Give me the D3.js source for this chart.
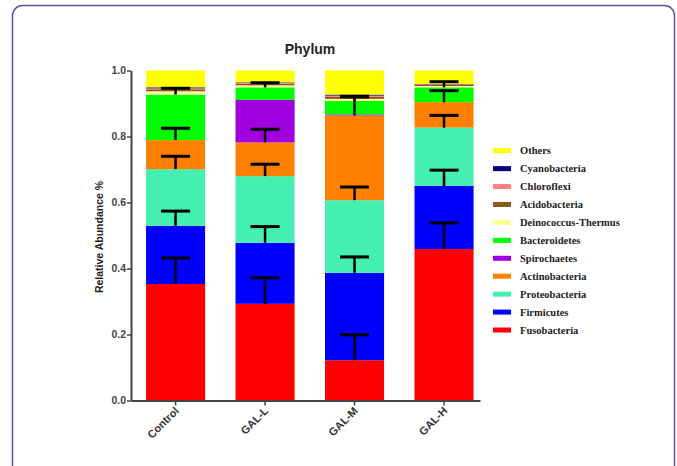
<!DOCTYPE html>
<html>
<head>
<meta charset="utf-8">
<script src="https://cdn.jsdelivr.net/npm/d3@7"></script>
<style>
  body { margin: 0; background: #fff; }
  svg { display: block; }
</style>
</head>
<body>
<div id="chart"></div>
<script>
var groups = ['Control', 'GAL-L', 'GAL-M', 'GAL-H']

// stacking order, bottom to top
var phyla = ['Fusobacteria', 'Firmicutes', 'Proteobacteria', 'Actinobacteria', 'Spirochaetes',
  'Bacteroidetes', 'Deinococcus-Thermus', 'Acidobacteria', 'Chloroflexi', 'Cyanobacteria', 'Others']

var colors = ['#ff0000', '#0000ff', '#44f0b0', '#ff8000', '#a000dd',
  '#00ff00', '#ffff99', '#8b5a1a', '#ff8080', '#000080', '#ffff00']

// mean relative abundance per group (Control, GAL-L, GAL-M, GAL-H)
var fusobacteria = [0.353, 0.293, 0.122, 0.459]
var firmicutes = [0.176, 0.185, 0.265, 0.191]
var proteobacteria = [0.172, 0.202, 0.220, 0.177]
var actinobacteria = [0.088, 0.102, 0.257, 0.077]
var spirochaetes = [0.000, 0.129, 0.003, 0.000]
var bacteroidetes = [0.138, 0.038, 0.041, 0.045]
var deinococcus = [0.010, 0.006, 0.006, 0.004]
var acidobacteria = [0.006, 0.005, 0.006, 0.003]
var chloroflexi = [0.003, 0.002, 0.004, 0.002]
var cyanobacteria = [0.003, 0.002, 0.003, 0.001]
var others = [0.051, 0.036, 0.073, 0.041]

// error (SD) per segment
var errFuso = [0.079, 0.079, 0.077, 0.079]
var errFirm = [0.045, 0.049, 0.048, 0.048]
var errProteo = [0.039, 0.036, 0.040, 0.037]
var errActino = [0.036, 0.040, 0.056, 0.035]
var errBacter = [0.019, 0.014, 0.014, 0.017]

var yTicks = [0, 0.2, 0.4, 0.6, 0.8, 1.0]

var series = [fusobacteria, firmicutes, proteobacteria, actinobacteria, spirochaetes,
  bacteroidetes, deinococcus, acidobacteria, chloroflexi, cyanobacteria, others]
var errors = [errFuso, errFirm, errProteo, errActino, null, errBacter, null, null, null, null, null]

var width = 677
var height = 466

var svg = d3.select('#chart')
  .append('svg')
  .attr('width', width)
  .attr('height', height)

// rounded frame around the figure
svg.append('rect')
  .attr('x', 12.5)
  .attr('y', 5.5)
  .attr('width', 662)
  .attr('height', 520)
  .attr('rx', 10)
  .attr('fill', 'none')
  .attr('stroke', '#5b4fa3')
  .attr('stroke-width', 1.5)

var x = d3.scaleBand()
  .domain(groups)
  .range([131, 480])
  .paddingInner(0.34)
  .paddingOuter(0.12)
  .align(0.7)

var y = d3.scaleLinear()
  .domain([0, 1])
  .range([400.5, 70.5])

// build the stacked table
var table = groups.map((g, i) => {
  var row = { group: g }
  phyla.forEach((p, j) => { row[p] = series[j][i] })
  return row
})

var stack = d3.stack().keys(phyla)
var stacked = stack(table)

var layers = svg.append('g')
  .selectAll('g')
  .data(stacked)
  .join('g')
  .attr('fill', (d, i) => colors[i])

layers.selectAll('rect')
  .data(d => d)
  .join('rect')
  .attr('x', d => x(d.data.group))
  .attr('width', x.bandwidth())
  .attr('y', d => y(d[1]))
  .attr('height', d => Math.max(0, y(d[0]) - y(d[1])))

// error bars (upper half only)
var errG = svg.append('g')
stacked.forEach((layer, j) => {
  if (!errors[j]) return
  layer.forEach((d, i) => {
    var cx = x(d.data.group) + x.bandwidth() / 2
    var top = d[1]
    var e = errors[j][i]
    errG.append('line')
      .attr('x1', cx).attr('x2', cx)
      .attr('y1', y(top)).attr('y2', y(top + e))
      .attr('stroke', '#000')
      .attr('stroke-width', 2.5)
    errG.append('line')
      .attr('x1', cx - 14.5).attr('x2', cx + 14.5)
      .attr('y1', y(top + e)).attr('y2', y(top + e))
      .attr('stroke', '#000')
      .attr('stroke-width', 3)
  })
})

// axes
var yAxis = svg.append('g')
  .attr('transform', 'translate(131,0)')
  .call(d3.axisLeft(y).tickValues(yTicks).tickFormat(d3.format('.1f')).tickSize(4).tickSizeOuter(0))

yAxis.select('.domain').attr('stroke', '#444').attr('stroke-width', 2)
yAxis.selectAll('.tick line').attr('stroke', '#444').attr('stroke-width', 1.5)
yAxis.selectAll('.tick text')
  .attr('x', -5)
  .attr('fill', '#444')
  .style('font', 'bold 10.5px "Liberation Sans", Arial, sans-serif')

var xAxis = svg.append('g')
  .attr('transform', 'translate(0,400.5)')
  .call(d3.axisBottom(x).tickSize(5).tickSizeOuter(0))

xAxis.select('.domain').attr('stroke', '#444').attr('stroke-width', 2)
xAxis.selectAll('.tick line').attr('stroke', '#444').attr('stroke-width', 1.5)
xAxis.selectAll('.tick text')
  .attr('text-anchor', 'end')
  .attr('dy', 0)
  .attr('y', 0)
  .attr('transform', 'translate(4,11) rotate(-45)')
  .attr('fill', '#333')
  .style('font', 'bold 11px "Liberation Sans", Arial, sans-serif')

// title and y label
svg.append('text')
  .attr('x', 310)
  .attr('y', 54)
  .attr('text-anchor', 'middle')
  .attr('fill', '#222')
  .style('font', 'bold 14px "Liberation Sans", Arial, sans-serif')
  .text('Phylum')

svg.append('text')
  .attr('transform', 'translate(103,237) rotate(-90)')
  .attr('text-anchor', 'middle')
  .attr('fill', '#222')
  .style('font', 'bold 10.5px "Liberation Sans", Arial, sans-serif')
  .text('Relative Abundance %')

// legend, top entry is the top of the stack
var legendItems = phyla.map((p, i) => ({ name: p, color: colors[i] })).reverse()

var legend = svg.append('g')
  .selectAll('g')
  .data(legendItems)
  .join('g')
  .attr('transform', (d, i) => 'translate(493,' + (150.7 + i * 17.93) + ')')

legend.append('rect')
  .attr('x', 0)
  .attr('y', -2.5)
  .attr('width', 18)
  .attr('height', 5)
  .attr('fill', d => d.color)

legend.append('text')
  .attr('x', 27)
  .attr('y', 3.5)
  .attr('fill', '#222')
  .style('font', 'bold 10.5px "Liberation Serif", "Times New Roman", serif')
  .text(d => d.name)
</script>
</body>
</html>
